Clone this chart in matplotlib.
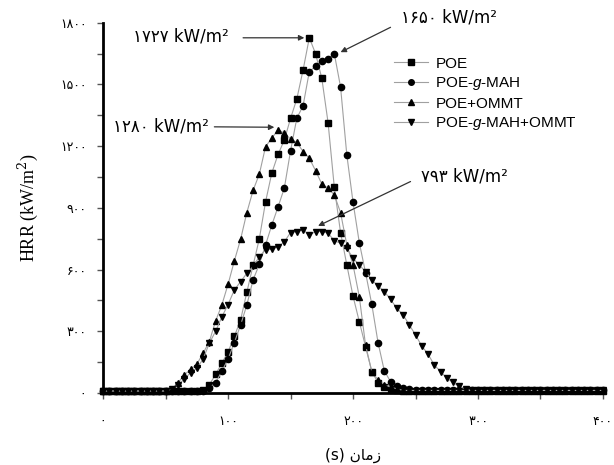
import matplotlib.pyplot as plt
from matplotlib.ticker import MultipleLocator, FixedLocator
from matplotlib.lines import Line2D

plt.rcParams['font.family'] = ['Liberation Sans', 'DejaVu Sans']
plt.rcParams['mathtext.fontset'] = 'custom'
plt.rcParams['mathtext.it'] = 'Liberation Sans:italic'
plt.rcParams['mathtext.rm'] = 'Liberation Sans'

# time axis, one reading every 5 s
time_s = list(range(0, 405, 5))

poe = [10] * 16 + [
    15, 40, 90, 145, 200, 275, 355, 490, 620, 750, 930, 1070, 1160, 1230, 1335, 1430,
    1570, 1727, 1650, 1530, 1315, 1000, 780, 623, 470, 347, 225, 104, 50, 30, 20, 15,
] + [10] * 33

poe_g_mah = [10] * 17 + [
    25, 50, 105, 165, 245, 330, 428, 550, 625, 720, 817, 905, 996, 1178, 1336, 1396,
    1563, 1588, 1616, 1625, 1650, 1488, 1158, 927, 731, 585, 431, 245, 108, 55, 35, 25, 18,
] + [12] * 31

poe_ommt = [10] * 11 + [
    20, 50, 88, 115, 140, 193, 250, 350, 428, 529, 642, 747, 877, 985, 1064, 1198,
    1239, 1280, 1263, 1235, 1218, 1174, 1141, 1081, 1016, 996, 963, 877, 720, 622, 468,
    233, 104, 63, 40, 28, 20,
] + [12] * 33

poe_g_mah_ommt = [10] * 11 + [
    20, 40, 67, 99, 120, 165, 242, 300, 370, 430, 501, 541, 582, 615, 663, 696, 700,
    710, 735, 780, 785, 793, 768, 785, 785, 777, 740, 728, 704, 655, 622, 590, 550, 520,
    493, 455, 412, 380, 331, 282, 228, 189, 136, 104, 72, 51, 32, 20,
] + [12] * 22

labels = ['POE', r'POE-$\it{g}$-MAH', 'POE+OMMT', r'POE-$\it{g}$-MAH+OMMT']
markers = ['s', 'o', '^', 'v']

x_ticks = [0, 100, 200, 300, 400]
x_tick_labels = ['۰', '۱۰۰', '۲۰۰', '۳۰۰', '۴۰۰']
y_ticks = [0, 300, 600, 900, 1200, 1500, 1800]
y_tick_labels = ['۰', '۳۰۰', '۶۰۰', '۹۰۰', '۱۲۰۰', '۱۵۰۰', '۱۸۰۰']

# peak notes: text, text position, arrow start, arrow tip
peak_notes = [
    ('۱۷۲۷ kW/m²', (24, 1731), (112, 1727), (161, 1727)),
    ('۱۲۸۰ kW/m²', (8, 1297), (89, 1294), (137, 1292)),
    ('۱۶۵۰ kW/m²', (238, 1828), (230, 1778), (190, 1657)),
    ('۷۹۳ kW/m²', (254, 1052), (246, 1028), (172, 812)),
]

# "زمان" written in presentation forms, visual order (matplotlib has no shaping)
x_label = '(s) \uFEE5\uFE8E\uFEE3\uFEAF'

fig = plt.figure(figsize=(6.14, 4.65), dpi=100)
ax = fig.add_axes([0.168, 0.155, 0.814, 0.796])

series = [poe, poe_g_mah, poe_ommt, poe_g_mah_ommt]
for vals, lab, mk in zip(series, labels, markers):
    ax.plot(time_s, vals, color='#a0a0a0', lw=0.8, marker=mk, markersize=4.5,
            markerfacecolor='black', markeredgecolor='black', label=lab, clip_on=False)

ax.set_xlim(0, 400)
ax.set_ylim(0, 1800)
ax.spines['top'].set_visible(False)
ax.spines['right'].set_visible(False)
ax.spines['left'].set_linewidth(2)
ax.spines['bottom'].set_linewidth(2)

ax.xaxis.set_major_locator(FixedLocator(x_ticks))
ax.yaxis.set_major_locator(FixedLocator(y_ticks))
ax.xaxis.set_minor_locator(MultipleLocator(50))
ax.yaxis.set_minor_locator(MultipleLocator(150))
ax.set_xticklabels(x_tick_labels, family=['DejaVu Sans'], fontsize=9)
ax.set_yticklabels(y_tick_labels, family=['DejaVu Sans'], fontsize=9)
ax.tick_params(which='both', direction='out', length=4, width=1, color='#555555')
ax.tick_params(axis='x', pad=12)
ax.tick_params(axis='y', pad=8)

ax.set_ylabel('HRR (kW/m$^2$)', family=['Liberation Serif'], fontsize=13, labelpad=14)
ax.yaxis.label.set_math_fontfamily('dejavuserif')
ax.set_xlabel(x_label, family=['DejaVu Sans'], fontsize=11, labelpad=14)

for txt, tpos, start, tip in peak_notes:
    ax.text(tpos[0], tpos[1], txt, fontsize=12, va='center', ha='left',
            family=['DejaVu Sans'], clip_on=False)
    ax.annotate('', xy=tip, xytext=start, annotation_clip=False,
                arrowprops=dict(arrowstyle='-|>', color='#333333', lw=0.9,
                                mutation_scale=8, shrinkA=0, shrinkB=0))

handles = [Line2D([], [], color='#a0a0a0', lw=0.8, marker=mk, markersize=4,
                  markerfacecolor='black', markeredgecolor='black') for mk in markers]
ax.legend(handles, labels, loc='upper left', bbox_to_anchor=(0.57, 0.925), frameon=False,
          fontsize=11, handlelength=2.2, handletextpad=0.5, labelspacing=0.3,
          borderaxespad=0)

fig.savefig('out.png', dpi=100)
